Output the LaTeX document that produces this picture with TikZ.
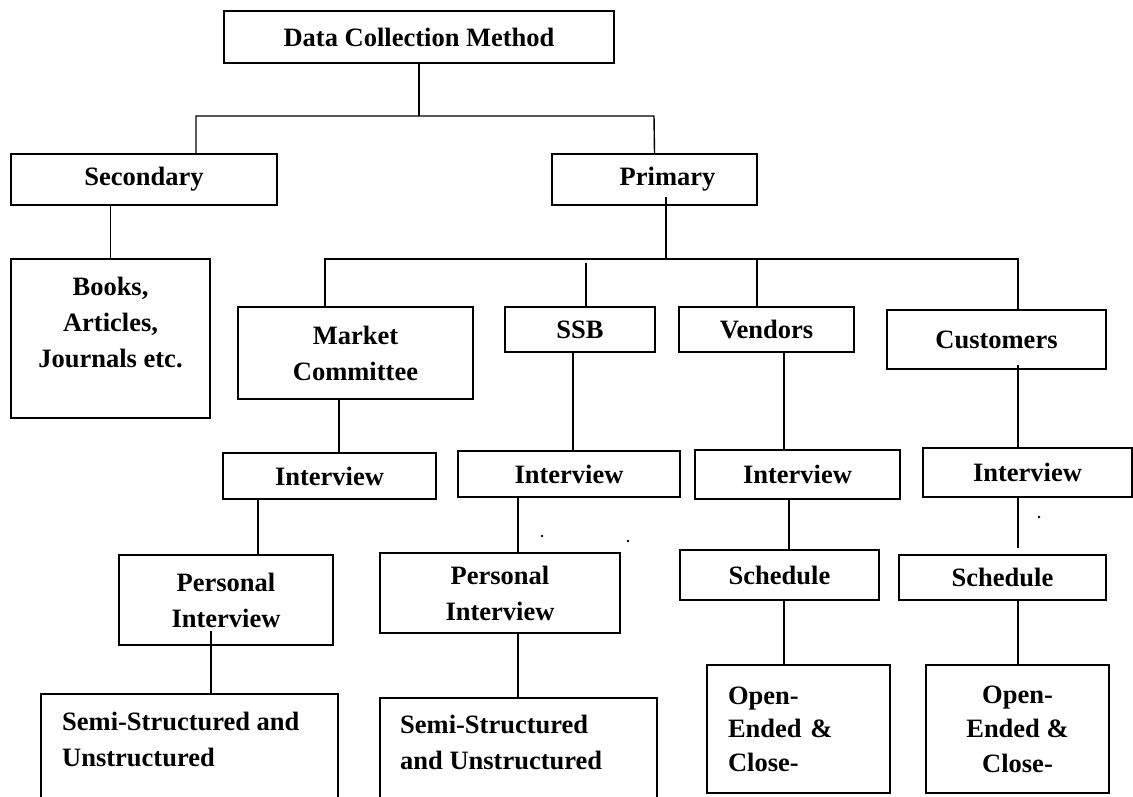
\documentclass[tikz,border=0pt]{standalone}
\usepackage{fontspec}
\setmainfont{Liberation Serif}
\tikzset{
  box/.style={draw, line width=1.8pt, inner sep=0pt, align=center,
    font=\bfseries\fontsize{26.5}{36}\selectfont},
  lbl/.style={inner sep=0pt, font=\bfseries\fontsize{26.5}{36}\selectfont},
  link/.style={line width=1.4pt},
}
\begin{document}
\begin{tikzpicture}[x=1pt,y=-1pt]
        \useasboundingbox (0,0) rectangle (1133,796);
        \clip (0,0) rectangle (1133,796);

        % Top levels
        \node[box, minimum width=390, minimum height=52] (dcm) at (419,37) {Data Collection Method};
        \node[box, minimum width=266, minimum height=51] (sec) at (144,179.5) {Secondary};
        \node[box, minimum width=205, minimum height=51,
              label={[lbl,xshift=13pt]center:Primary}] (pri) at (654.5,179.5) {};
        \node[box, minimum width=199, minimum height=159] (books) at (110.5,338.5) {};
        \node[lbl, align=center, anchor=north] (books-t) at (110.5,277) {Books,\\Articles,\\Journals etc.};

        % Sources
        \node[box, minimum width=235, minimum height=92] (mc) at (355.5,353) {Market\\Committee};
        \node[box, minimum width=150, minimum height=45] (ssb) at (580,329.5) {SSB};
        \node[box, minimum width=175, minimum height=45] (vend) at (766.5,329.5) {Vendors};
        \node[box, minimum width=219, minimum height=59] (cust) at (996.5,339.5) {Customers};

        % Methods
        \node[box, minimum width=213, minimum height=46] (int1) at (329.5,476) {Interview};
        \node[box, minimum width=222, minimum height=46] (int2) at (569,474) {Interview};
        \node[box, minimum width=205, minimum height=49] (int3) at (797.5,474.5) {Interview};
        \node[box, minimum width=209, minimum height=49] (int4) at (1027.5,472.5) {Interview};

        \node[box, minimum width=214, minimum height=90] (pi1) at (226,600) {Personal\\Interview};
        \node[box, minimum width=240, minimum height=80] (pi2) at (500,593) {Personal\\Interview};
        \node[box, minimum width=199, minimum height=50] (sch1) at (779.5,575) {Schedule};
        \node[box, minimum width=207, minimum height=45] (sch2) at (1002.5,577.5) {Schedule};

        % Question types
        \node[box, minimum width=297, minimum height=136] (semi1) at (189.5,762) {};
        \node[lbl, align=left, anchor=north west] (semi1-t) at (62,712) {Semi-Structured and\\Unstructured};
        \node[box, minimum width=277, minimum height=132] (semi2) at (518.5,764) {};
        \node[lbl, align=left, anchor=north west] (semi2-t) at (400,715) {Semi-Structured\\and Unstructured};
        \node[box, minimum width=183, minimum height=128, text width=141, align=left,
              font=\bfseries\fontsize{26.5}{33.5}\selectfont] (open1) at (798.5,729) {Open-\\Ended \&\\Close-};
        \node[box, minimum width=183, minimum height=128,
              font=\bfseries\fontsize{26.5}{34.5}\selectfont] (open2) at (1017.5,729) {Open-\\Ended \&\\Close-};

        % Rails
        \coordinate (r-sec) at (196,116);
        \coordinate (r-pri) at (654,116);
        \coordinate (r-bus) at (666,259);
        \coordinate (r-mc) at (325,259);
        \coordinate (r-ssb) at (586,259);
        \coordinate (r-ven) at (757,259);
        \coordinate (r-cus) at (1018,259);
        \coordinate (r-i1) at (339,430);
        \coordinate (r-i2) at (573,430);
        \coordinate (r-i3) at (784,430);
        \coordinate (r-p1) at (258,530);
        \coordinate (r-p2) at (518,530);
        \coordinate (r-s1) at (789,530);
        \coordinate (r-u1) at (211,670);

        % Connectors
        \draw[link] (dcm.south) -- (dcm.south |- r-sec);
        \draw[link] (sec.north -| r-sec) -- (r-sec) -- (r-pri) -- (pri.north);
        \draw[link] (sec.south -| books.north) -- (books.north);
        \draw[link] ([yshift=9pt]pri.south -| r-bus) -- (r-bus);
        \draw[link] (mc.north -| r-mc) -- (r-mc) -- (r-cus) -- (cust.north -| r-cus);
        \draw[link] ([yshift=-4pt]r-ssb) -- (ssb.north -| r-ssb);
        \draw[link] (r-ven) -- (vend.north -| r-ven);

        \draw[link] (mc.south -| r-i1) -- (int1.north -| r-i1);
        \draw[link] (ssb.south -| r-i2) -- (int2.north -| r-i2);
        \draw[link] (vend.south -| r-i3) -- (int3.north -| r-i3);
        \draw[link] ([yshift=5pt]cust.south -| r-cus) -- (int4.north -| r-cus);

        \draw[link] (int1.south -| r-p1) -- (pi1.north -| r-p1);
        \draw[link] (int2.south -| r-p2) -- (pi2.north -| r-p2);
        \draw[link] (int3.south -| r-s1) -- (sch1.north -| r-s1);
        \draw[link] (int4.south -| r-cus) -- ([yshift=6pt]sch2.north -| r-cus);

        \draw[link] ([yshift=15pt]pi1.south -| r-u1) -- (semi1.north -| r-u1);
        \draw[link] (pi2.south -| r-p2) -- (semi2.north -| r-p2);
        \draw[link] (sch1.south -| r-i3) -- (open1.north -| r-i3);
        \draw[link] (sch2.south -| r-cus) -- (open2.north -| r-cus);

        % Stray dots
        \fill (542,536) circle (1.3pt);
        \fill (628,541) circle (1.3pt);
        \fill (1039,517) circle (1.3pt);

    \end{tikzpicture}
\end{document}
